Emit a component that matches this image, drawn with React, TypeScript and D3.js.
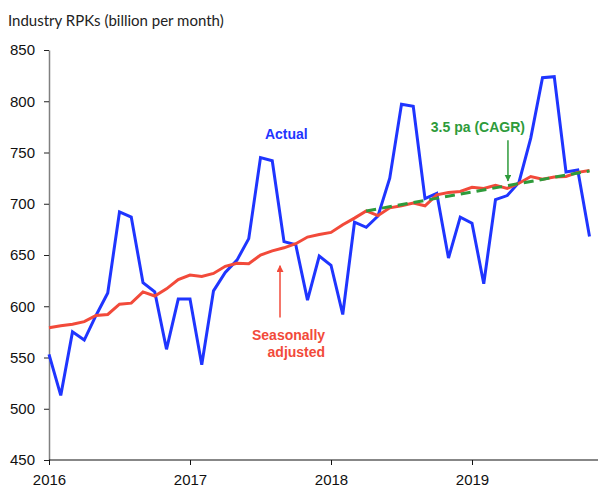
import * as d3 from 'd3'
import { useEffect, useRef } from 'react'

// month index 0 = Jan 2016
const yearLabels = ['2016', '2017', '2018', '2019']
const yTicks = [450, 500, 550, 600, 650, 700, 750, 800, 850]

const actual = [
    553, 513, 575, 567, 591, 613, 692, 687, 623, 614, 558, 607,
    607, 543, 615, 633, 645, 666, 745, 742, 663, 660, 606, 649,
    640, 592, 682, 677, 688, 725, 797, 795, 705, 710, 647, 687,
    681, 622, 704, 708, 721, 764, 823, 824, 731, 733, 668,
]

const seasonal = [
    579, 581, 582.5, 585, 591, 592, 602, 603, 614, 610, 617, 626,
    630.5, 629, 632, 639, 642, 641.5, 650, 654, 657, 661, 667.5, 670,
    672, 679.5, 686, 693, 688.5, 696, 698, 700.6, 698, 708.7, 711, 712,
    716, 715, 718, 715, 720, 726.6, 724, 726, 726.6, 730.6, 732.4,
]

// CAGR trend (3.5% pa) from Apr 2018 to Nov 2019
const trend = [
    { m: 27, v: 693 },
    { m: 46, v: 732 },
]

const BLUE = '#1f35ff'
const RED = '#f24a3a'
const GREEN = '#2e9b3b'

const App = () => {
    const ref = useRef<SVGSVGElement>(null)

    useEffect(() => {
        document.body.style.margin = '0'
        const W = 598
        const H = 488
        const margin = { top: 50, left: 49, bottom: 28 }
        const plotBottom = H - margin.bottom

        const svg = d3.select(ref.current)
        svg.selectAll('*').remove()

        const x = d3.scaleLinear().domain([0, 48]).range([margin.left, margin.left + 564])
        const y = d3.scaleLinear().domain([450, 850]).range([plotBottom, margin.top])

        const defs = svg.append('defs')
        const mk = (id: string, color: string) => {
            defs.append('marker')
                .attr('id', id)
                .attr('viewBox', '0 0 10 10')
                .attr('refX', 9)
                .attr('refY', 5)
                .attr('markerWidth', 7)
                .attr('markerHeight', 7)
                .attr('markerUnits', 'userSpaceOnUse')
                .attr('orient', 'auto')
                .append('path')
                .attr('d', 'M0,0 L10,5 L0,10 z')
                .attr('fill', color)
        }
        mk('arrG', GREEN)
        mk('arrR', RED)

        // title
        svg.append('text')
            .attr('x', 8)
            .attr('y', 26)
            .attr('font-family', 'Lato, "Open Sans", sans-serif')
            .attr('font-size', 15)
            .attr('fill', '#222')
            .text('Industry RPKs (billion per month)')

        // y axis
        const yAxis = svg.append('g')
            .attr('transform', `translate(${margin.left},0)`)
            .call(d3.axisLeft(y).tickValues(yTicks).tickSize(5).tickSizeOuter(0))
        yAxis.select('.domain').attr('stroke', '#808080').attr('stroke-width', 1.5)
        yAxis.selectAll('.tick line').attr('stroke', '#222')
        yAxis.selectAll('.tick text')
            .attr('font-family', '"Liberation Sans", Arial, sans-serif')
            .attr('font-size', 15)
            .attr('fill', '#111')
            .attr('x', -14)

        // x axis
        const xAxis = svg.append('g')
            .attr('transform', `translate(0,${plotBottom})`)
            .call(d3.axisBottom(x)
                .tickValues(yearLabels.map((_, i) => i * 12))
                .tickFormat((_, i) => yearLabels[i])
                .tickSize(5)
                .tickSizeOuter(0))
        xAxis.select('.domain').attr('d', `M${margin.left},0H${W}`).attr('stroke', '#111').attr('stroke-width', 1.2)
        xAxis.selectAll('.tick line').attr('stroke', '#111')
        xAxis.selectAll('.tick text')
            .attr('font-family', '"Liberation Sans", Arial, sans-serif')
            .attr('font-size', 15)
            .attr('fill', '#111')
            .attr('y', 14)

        const line = d3.line<number>()
            .x((_, i) => x(i))
            .y(d => y(d))

        svg.append('path')
            .datum(actual)
            .attr('fill', 'none')
            .attr('stroke', BLUE)
            .attr('stroke-width', 3)
            .attr('stroke-linejoin', 'miter')
            .attr('d', line)

        svg.append('path')
            .datum(seasonal)
            .attr('fill', 'none')
            .attr('stroke', RED)
            .attr('stroke-width', 3)
            .attr('d', line)

        svg.append('path')
            .datum(trend)
            .attr('fill', 'none')
            .attr('stroke', GREEN)
            .attr('stroke-width', 3)
            .attr('stroke-dasharray', '10,6')
            .attr('d', d3.line<{ m: number, v: number }>().x(d => x(d.m)).y(d => y(d.v)))

        const bold = (tx: number, ty: number, txt: string, color: string, anchor = 'middle') =>
            svg.append('text')
                .attr('x', tx)
                .attr('y', ty)
                .attr('text-anchor', anchor)
                .attr('font-family', '"Liberation Sans", Arial, sans-serif')
                .attr('font-weight', 'bold')
                .attr('font-size', 14)
                .attr('fill', color)
                .text(txt)

        // annotations
        bold(x(20.2), y(763.3), 'Actual', BLUE)
        bold(x(36.5), y(770.4), '3.5 pa (CAGR)', GREEN)
        bold(x(23.5), y(567.4), 'Seasonally', RED, 'end')
        bold(x(23.5), y(550.8), 'adjusted', RED, 'end')

        svg.append('line')
            .attr('x1', x(39.06)).attr('x2', x(39.06))
            .attr('y1', y(762)).attr('y2', y(722.3))
            .attr('stroke', GREEN).attr('stroke-width', 1.5)
            .attr('marker-end', 'url(#arrG)')

        svg.append('line')
            .attr('x1', x(19.66)).attr('x2', x(19.66))
            .attr('y1', y(589)).attr('y2', y(639.5))
            .attr('stroke', RED).attr('stroke-width', 1.5)
            .attr('marker-end', 'url(#arrR)')
    }, [])

    return <svg ref={ref} width={598} height={488} style={{ display: 'block', background: '#fff' }} />
}

export default App
